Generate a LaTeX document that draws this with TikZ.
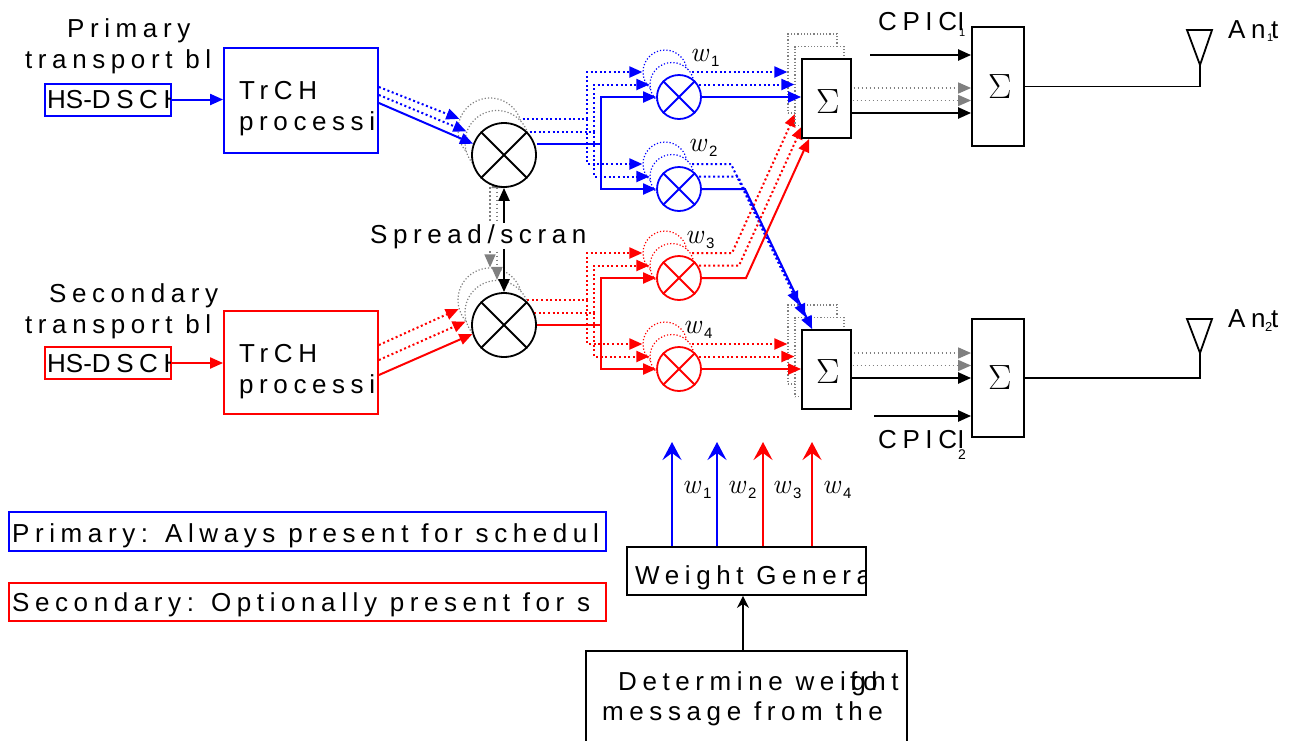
\documentclass[tikz,border=0pt]{standalone}
\usepackage[no-math]{fontspec}
\setmainfont{Liberation Sans}
\newfontfamily\spc{Liberation Sans}[LetterSpace=21.5]
\newfontfamily\lmr{Latin Modern Roman}
\usetikzlibrary{arrows.meta}
\definecolor{pblue}{RGB}{0,0,255}
\definecolor{pred}{RGB}{255,0,0}
\definecolor{ggray}{RGB}{128,128,128}
\tikzset{
 txt/.style={font=\spc\fontsize{26}{30}\selectfont, inner sep=0pt, anchor=base west},
 subn/.style={font=\fontsize{#1}{#1}\selectfont, inner sep=0pt, anchor=base west},
 wl/.style={font=\lmr\itshape\fontsize{28}{30}\selectfont, inner sep=0pt, anchor=base west},
 sig/.style={font=\lmr\fontsize{35}{40}\selectfont, inner sep=0pt},
 ar/.style={-{Triangle[length=13pt,width=11pt]}},
 dar/.style={{Triangle[length=13pt,width=11pt]}-{Triangle[length=13pt,width=11pt]}},
 war/.style={-{Stealth[length=18pt,width=19pt,inset=7pt]}},
 bar/.style={-{Stealth[length=12pt,width=12pt,inset=4pt]}},
 bl/.code={\ifnum#1=0\relax\tikzset{pblue,line width=2pt,solid}\else\tikzset{pblue,line width=2pt,dash pattern=on 2pt off 2.6pt}\fi},
 rl/.code={\ifnum#1=0\relax\tikzset{pred,line width=2pt,solid}\else\tikzset{pred,line width=2pt,dash pattern=on 2pt off 2.6pt}\fi},
 kl/.code={\ifnum#1=0\relax\tikzset{black,line width=2.2pt,solid}\else\tikzset{ggray,line width=1.5pt,dash pattern=on 1.5pt off 2.5pt}\fi},
 circ/.code={\ifnum#1=0\relax\tikzset{line width=1.8pt,solid}\else\tikzset{line width=1.2pt,dash pattern=on 1.2pt off 2pt}\fi},
 kc/.code={\ifnum#1=0\relax\tikzset{draw=black}\else\tikzset{draw=ggray}\fi},
 mult/.style={circle,minimum size=64pt,inner sep=0pt,fill=white},
 wm/.style={circle,minimum size=44pt,inner sep=0pt,fill=white},
 sbox/.style={rectangle,minimum width=49pt,minimum height=79pt,inner sep=0pt,fill=white},
 box/.style={rectangle,draw,line width=1.8pt,inner sep=0pt,fill=white},
}
\begin{document}
\begin{tikzpicture}[x=1pt,y=-1pt]
\useasboundingbox (0,0) rectangle (1289,740);

% ---------- left inputs ----------
\node[txt] (lp1) at (67,37) {Primary};
\node[txt] (lt1) at (25,68) {transport bl};
\node[txt] (ls2) at (49,302) {Secondary};
\node[txt] (lt2) at (25,333) {transport bl};

\node[box, draw=pblue, line width=2pt, minimum width=126pt, minimum height=32pt] (hs1) at (108,99.5) {};
\begin{scope}
\clip (45,80) rectangle (170,120);
\node[subn=26] (hs1t) at (47,108.5) {HS-{\spc DSCH}};
\end{scope}
\node[box, draw=pred, line width=2pt, minimum width=126pt, minimum height=32pt] (hs2) at (108,363) {};
\begin{scope}
\clip (45,345) rectangle (170,382);
\node[subn=26] (hs2t) at (47,372) {HS-{\spc DSCH}};
\end{scope}

\node[box, draw=pblue, minimum width=154pt, minimum height=105pt] (tr1) at (301,100.5) {};
\node[txt] (tr1a) at (239,99) {TrCH};
\begin{scope}
\clip (224,40) rectangle (378,160);
\node[txt] (tr1b) at (239,130) {processin};
\end{scope}
\node[box, draw=pred, minimum width=154pt, minimum height=103pt] (tr2) at (301,362.5) {};
\node[txt] (tr2a) at (239,362) {TrCH};
\begin{scope}
\clip (224,300) rectangle (378,420);
\node[txt] (tr2b) at (239,393) {processin};
\end{scope}

\draw[bl=0, ar] (hs1.east) -- (hs1.east -| tr1.west);
\draw[rl=0, ar] (hs2.east) -- (hs2.east -| tr2.west);

% ---------- right side ----------
\node[box, minimum width=52pt, minimum height=119pt] (t1) at (998,86.5) {};
\node[box, minimum width=52pt, minimum height=118pt] (t2) at (998,378) {};
\node[sig] (t1s) at (1000,87) {Σ};
\node[sig] (t2s) at (1000,378) {Σ};

\coordinate (an1) at (1200,65);
\coordinate (an2) at (1200,353);
\draw[line width=1.8pt] (1187,30) -- (1212,30) -- (an1) -- cycle;
\draw[line width=1.8pt] (1187,319) -- (1212,319) -- (an2) -- cycle;
\draw[line width=1.8pt] (t1.east) -| (an1);
\draw[line width=1.8pt] (t2.east) -| (an2);
\node[txt] (ant1) at (1228,38) {Ant};
\node[subn=11] (ant1s) at (1267,41) {1};
\node[txt] (ant2) at (1228,327) {Ant};
\node[subn=13] (ant2s) at (1265,331) {2};

\coordinate (c1) at (870,55);
\coordinate (c2) at (874,416);
\draw[kl=0, ar] (c1) -- (c1 -| t1.west);
\draw[kl=0, ar] (c2) -- (c2 -| t2.west);
\node[txt] (cpa) at (878,30) {CPIC};
\begin{scope}
\clip ([xshift=-1pt,yshift=-4pt]cpa.base east) rectangle ([xshift=4.5pt,yshift=22pt]cpa.base east);
\node[txt] (cpah) at (cpa.base east) {H};
\end{scope}
\node[subn=11] (cpa1) at (959,36) {1};
\node[txt] (cpb) at (878,448) {CPIC};
\begin{scope}
\clip ([xshift=-1pt,yshift=-4pt]cpb.base east) rectangle ([xshift=4.5pt,yshift=22pt]cpb.base east);
\node[txt] (cpbh) at (cpb.base east) {H};
\end{scope}
\node[subn=14] (cpb2) at (958,459) {2};

% ---------- layered (stacked) part ----------
\foreach \k in {2,1,0}{
\begin{scope}[shift={(-7*\k,-12.5*\k)}]
 \node[mult, circ=\k, kc=\k] (m1-\k) at (504,155) {};
 \node[mult, circ=\k, kc=\k] (m2-\k) at (504,325) {};
 \node[wm, circ=\k, draw=pblue] (w1-\k) at (679,97) {};
 \node[wm, circ=\k, draw=pblue] (w2-\k) at (679,189) {};
 \node[wm, circ=\k, draw=pred] (w3-\k) at (679,278) {};
 \node[wm, circ=\k, draw=pred] (w4-\k) at (679,369) {};
 \node[sbox, circ=\k, kc=\k] (s1-\k) at (826.5,98.5) {};
 \node[sbox, circ=\k, kc=\k] (s2-\k) at (826.5,369.5) {};
 % inputs from TrCH
 \draw[bl=\k, ar] ([yshift={(8*\k-2.5)*1pt}]tr1.east) -- (m1-\k.160);
 \draw[rl=\k, ar] ([yshift={(15*\k-12.5)*1pt}]tr2.east) -- (m2-\k.196);
 % spreading
 \draw[kl=\k, dar] (m1-\k.south) -- (m2-\k.north);
 % distribution to weights
 \coordinate (b1-\k) at (601,144);
 \coordinate (b2-\k) at (601,325);
 \draw[bl=\k] ([yshift=11pt]m1-\k.east) -- (b1-\k);
 \draw[bl=\k, ar] (b1-\k) |- (w1-\k.west);
 \draw[bl=\k, ar] (b1-\k) |- (w2-\k.west);
 \draw[rl=\k] (m2-\k.east) -- (b2-\k);
 \draw[rl=\k, ar] (b2-\k) |- (w3-\k.west);
 \draw[rl=\k, ar] (b2-\k) |- (w4-\k.west);
 % weights to summations
 \coordinate (k2-\k) at (745,189);
 \coordinate (k3-\k) at (746,278);
 \draw[bl=\k, ar] (w1-\k.east) -- (w1-\k.east -| s1-\k.west);
 \draw[bl=\k, ar] (w2-\k.east) -- (k2-\k) -- ([xshift=11pt]s2-\k.north west);
 \draw[rl=\k, ar] (w3-\k.east) -- (k3-\k) -- ([xshift=8pt]s1-\k.south west);
 \draw[rl=\k, ar] (w4-\k.east) -- (w4-\k.east -| s2-\k.west);
 % summations to antenna sums
 \coordinate (o1-\k) at ([yshift=-14.5pt]s1-\k.east);
 \coordinate (o2-\k) at ([yshift=-8.5pt]s2-\k.east);
 \draw[kl=\k, ar] (o1-\k) -- (o1-\k -| t1.west);
 \draw[kl=\k, ar] (o2-\k) -- (o2-\k -| t2.west);
\end{scope}
}

% crosses and sigmas on the front layer
\draw[line width=1.8pt] (m1-0.north east) -- (m1-0.south west) (m1-0.north west) -- (m1-0.south east);
\draw[line width=1.8pt] (m2-0.north east) -- (m2-0.south west) (m2-0.north west) -- (m2-0.south east);
\draw[line width=1.8pt, pblue] (w1-0.north east) -- (w1-0.south west) (w1-0.north west) -- (w1-0.south east);
\draw[line width=1.8pt, pblue] (w2-0.north east) -- (w2-0.south west) (w2-0.north west) -- (w2-0.south east);
\draw[line width=1.8pt, pred] (w3-0.north east) -- (w3-0.south west) (w3-0.north west) -- (w3-0.south east);
\draw[line width=1.8pt, pred] (w4-0.north east) -- (w4-0.south west) (w4-0.north west) -- (w4-0.south east);
\node[sig] (s1s) at (828,102) {Σ};
\node[sig] (s2s) at (828,372) {Σ};

\node[txt, fill=white, inner sep=1pt] (spr) at (369,243) {Spread/scran};

% weight labels
\node[wl] (lw1) at (690,61) {w};
\node[subn=15] (lw1s) at (711,66) {1};
\node[wl] (lw2) at (688,151) {w};
\node[subn=15] (lw2s) at (709,156) {2};
\node[wl] (lw3) at (685,243) {w};
\node[subn=15] (lw3s) at (706,248) {3};
\node[wl] (lw4) at (683,333) {w};
\node[subn=15] (lw4s) at (704,338) {4};

% ---------- weight generation ----------
\node[box, minimum width=239pt, minimum height=48pt] (wg) at (746.5,571) {};
\begin{scope}
\clip (627,547) rectangle (865,595);
\node[txt] (wgt) at (635,584) {Weight Genera};
\end{scope}
\node[box, minimum width=321pt, minimum height=98pt] (det) at (746.5,700) {};
\begin{scope}
\clip (586,651) rectangle (906,750);
\node[txt] (det1) at (618,690) {Determine weight};
\node[txt] (det1b) at (850,690) {fo};
\node[txt] (det2) at (602,720) {message from the};
\end{scope}
\draw[line width=1.6pt, bar] ([xshift=-3.5pt]det.north) -- ([xshift=-3.5pt]wg.south);

\coordinate (wt1) at (672,442);
\coordinate (wt2) at (717,442);
\coordinate (wt3) at (763,442);
\coordinate (wt4) at (812,442);
\draw[pblue, line width=2pt, war] (wg.north -| wt1) -- (wt1);
\draw[pblue, line width=2pt, war] (wg.north -| wt2) -- (wt2);
\draw[pred, line width=2pt, war] (wg.north -| wt3) -- (wt3);
\draw[pred, line width=2pt, war] (wg.north -| wt4) -- (wt4);
\node[wl] (bw1) at (682,493) {w};
\node[subn=15] (bw1s) at (703,498) {1};
\node[wl] (bw2) at (727,493) {w};
\node[subn=15] (bw2s) at (748,498) {2};
\node[wl] (bw3) at (772,493) {w};
\node[subn=15] (bw3s) at (793,498) {3};
\node[wl] (bw4) at (822,493) {w};
\node[subn=15] (bw4s) at (843,498) {4};

% ---------- legend ----------
\node[box, draw=pblue, line width=2pt, minimum width=597pt, minimum height=39pt] (lg1) at (307.5,531.5) {};
\begin{scope}
\clip (lg1.south west) rectangle (lg1.north east);
\node[txt] (lg1t) at (12,542) {Primary: Always present for schedul};
\end{scope}
\node[box, draw=pred, line width=2pt, minimum width=597pt, minimum height=38pt] (lg2) at (307.5,602) {};
\begin{scope}
\clip (lg2.south west) rectangle (lg2.north east);
\node[txt] (lg2t) at (12,611) {Secondary: Optionally present for s};
\end{scope}
\end{tikzpicture}
\end{document}
